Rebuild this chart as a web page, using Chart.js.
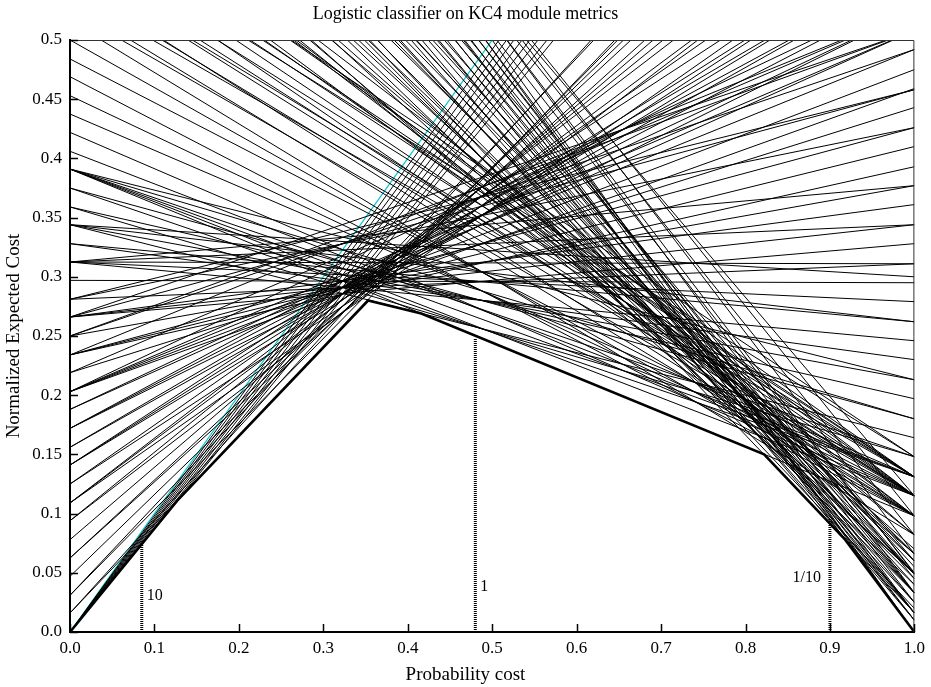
<!DOCTYPE html>
<html>
<head>
<meta charset="utf-8">
<script src="https://cdn.jsdelivr.net/npm/chart.js@4/dist/chart.umd.min.js"></script>
<style>
  html, body { margin: 0; padding: 0; background: #fff; }
  #wrap { width: 931px; height: 687px; position: relative; }
</style>
</head>
<body>
<div id="wrap"><canvas id="costChart"></canvas></div>
<script>
// cost lines: normalized expected cost at PC=0 (false positive rate) and PC=1 (false negative rate)
const fpr = [
    0, 0, 0, 0, 0, 0, 0, 0,
    0.016, 0.016, 0.031, 0.031, 0.047, 0.0625, 0.0625, 0.078, 0.094, 0.094,
    0.109, 0.109, 0.109, 0.125, 0.125, 0.141, 0.141, 0.141, 0.156, 0.156, 0.172, 0.172, 0.172, 0.188, 0.188,
    0.203, 0.203, 0.203, 0.203, 0.203, 0.219, 0.219,
    0.234, 0.234, 0.234, 0.234, 0.25, 0.25, 0.25,
    0.266, 0.266, 0.266, 0.266, 0.266, 0.281, 0.281, 0.281, 0.297,
    0.3125, 0.3125, 0.3125, 0.3125, 0.3125, 0.328, 0.328,
    0.344, 0.344, 0.344, 0.344, 0.359, 0.359, 0.375, 0.375,
    0.391, 0.391, 0.391, 0.391, 0.391, 0.391,
    0.406, 0.422, 0.4375, 0.453, 0.469, 0.484, 0.5,
    0.516, 0.525, 0.531, 0.54, 0.547, 0.55, 0.5625, 0.5625, 0.57, 0.578, 0.585, 0.594, 0.594, 0.60,
    0.609, 0.615, 0.625, 0.625, 0.63, 0.641, 0.645, 0.656, 0.66,
    0.672, 0.68, 0.6875, 0.70, 0.703, 0.719, 0.725, 0.734, 0.74, 0.75, 0.76, 0.766, 0.766, 0.775,
    0.781, 0.79, 0.797, 0.805, 0.8125, 0.82, 0.828, 0.835, 0.844, 0.85, 0.859, 0.865, 0.875, 0.88,
    0.891, 0.895, 0.906, 0.91, 0.922, 0.93, 0.938, 0.945, 0.953, 0.96, 0.969, 0.984,
    1.0, 1.0, 0.984, 1.0, 0.969, 0.984, 0.953
];
const fnr = [
    0.984, 0.967, 0.951, 0.934, 0.918, 0.902, 0.885, 0.873,
    0.80, 0.766, 0.787, 0.754, 0.738, 0.721, 0.705, 0.689, 0.672, 0.64,
    0.656, 0.64, 0.607, 0.623, 0.59, 0.607, 0.59, 0.574, 0.574, 0.557, 0.557, 0.541, 0.525, 0.525, 0.508,
    0.541, 0.508, 0.492, 0.475, 0.459, 0.525, 0.443,
    0.525, 0.426, 0.41, 0.393, 0.508, 0.492, 0.377,
    0.508, 0.458, 0.361, 0.344, 0.328, 0.458, 0.426, 0.311, 0.295,
    0.377, 0.344, 0.311, 0.279, 0.246, 0.262, 0.23,
    0.30, 0.262, 0.213, 0.164, 0.197, 0.148, 0.18, 0.131,
    0.213, 0.18, 0.148, 0.131, 0.115, 0.098,
    0.131, 0.115, 0.131, 0.115, 0.098, 0.115, 0.098,
    0.082, 0.115, 0.098, 0.131, 0.115, 0.098, 0.131, 0.115, 0.115, 0.131, 0.098, 0.148, 0.115, 0.131,
    0.131, 0.115, 0.148, 0.098, 0.131, 0.115, 0.098, 0.082, 0.115,
    0.066, 0.05, 0.082, 0.07, 0.049, 0.066, 0.04, 0.049, 0.06, 0.033, 0.045, 0.066, 0.0164, 0.02,
    0.049, 0.06, 0.033, 0.025, 0.049, 0.04, 0.016, 0.055, 0.033, 0.01, 0.049, 0.025, 0.016, 0.06,
    0.033, 0.01, 0.016, 0.045, 0.016, 0.01, 0.033, 0.025, 0.0, 0.05, 0.016, 0.0,
    0.0, 0.033, 0.049, 0.066, 0.082, 0.098, 0.115
];

// trivial classifier line
const trivialFpr = 0;
const trivialFnr = 1;

// lower envelope vertices
const envX = [0, 0.127, 0.353, 0.416, 0.822, 0.918, 1.0];
const envY = [0, 0.111, 0.280, 0.269, 0.150, 0.078, 0];

// operating points for cost ratios 10, 1 and 1/10
const markerX = [0.085, 0.48, 0.9];
const markerY = [0.078, 0.248, 0.096];
const markerText = ['10', '1', '1/10'];

const xTicks = [0, 0.1, 0.2, 0.3, 0.4, 0.5, 0.6, 0.7, 0.8, 0.9, 1.0];
const yTicks = [0, 0.05, 0.1, 0.15, 0.2, 0.25, 0.3, 0.35, 0.4, 0.45, 0.5];

const chartTitle = 'Logistic classifier on KC4 module metrics';
const xTitle = 'Probability cost';
const yTitle = 'Normalized Expected Cost';

const FONT = "'Liberation Serif', 'DejaVu Serif', serif";
Chart.defaults.color = '#000';
Chart.defaults.font.family = FONT;

const datasets = [];

fpr.forEach((a, i) => {
    datasets.push({
        data: [{ x: 0, y: a }, { x: 1, y: fnr[i] }],
        borderColor: '#000',
        borderWidth: 1
    });
});

datasets.push({
    data: [{ x: 0, y: trivialFpr }, { x: 1, y: trivialFnr }],
    borderColor: 'rgb(0, 200, 205)',
    borderWidth: 1.2
});

datasets.push({
    data: envX.map((x, i) => ({ x: x, y: envY[i] })),
    borderColor: '#000',
    borderWidth: 2.6
});

markerX.forEach((x, i) => {
    datasets.push({
        data: [{ x: x, y: 0 }, { x: x, y: markerY[i] }],
        borderColor: '#000',
        borderWidth: 3,
        borderDash: [1, 1]
    });
});

// inward tick marks, thin top/right frame, titles and marker captions
const framePlugin = {
    id: 'frame',
    afterDraw(chart) {
        const { ctx, chartArea: area, scales, width } = chart;
        ctx.save();
        ctx.strokeStyle = '#333';
        ctx.lineWidth = 1;
        ctx.beginPath();
        ctx.moveTo(area.left, area.top + 0.5);
        ctx.lineTo(area.right - 0.5, area.top + 0.5);
        ctx.lineTo(area.right - 0.5, area.bottom);
        ctx.stroke();

        ctx.strokeStyle = '#000';
        ctx.lineWidth = 1.5;
        ctx.beginPath();
        yTicks.forEach(v => {
            const py = Math.round(scales.y.getPixelForValue(v)) + 0.5;
            ctx.moveTo(area.left, py);
            ctx.lineTo(area.left + 8, py);
        });
        xTicks.forEach(v => {
            const px = Math.round(scales.x.getPixelForValue(v)) + 0.5;
            ctx.moveTo(px, area.bottom);
            ctx.lineTo(px, area.bottom - 8);
        });
        ctx.stroke();

        ctx.fillStyle = '#000';
        ctx.textBaseline = 'middle';
        ctx.textAlign = 'center';
        ctx.font = '18px ' + FONT;
        ctx.fillText(chartTitle, width / 2, 14);
        ctx.font = '19px ' + FONT;
        ctx.fillText(xTitle, width / 2, 675);

        ctx.font = '16px ' + FONT;
        const lift = [36, 45, 54];
        markerText.forEach((t, i) => {
            const px = scales.x.getPixelForValue(markerX[i]);
            const py = area.bottom - lift[i];
            if (i === 2) {
                ctx.textAlign = 'right';
                ctx.fillText(t, px - 9, py);
            } else {
                ctx.textAlign = 'left';
                ctx.fillText(t, px + 5, py);
            }
        });
        ctx.restore();
    }
};

new Chart(document.getElementById('costChart'), {
    type: 'scatter',
    data: { datasets: datasets },
    options: {
        responsive: true,
        maintainAspectRatio: false,
        animation: false,
        showLine: true,
        elements: {
            point: { radius: 0, hoverRadius: 0 },
            line: { tension: 0 }
        },
        layout: { padding: { left: 0, right: 15, top: 40, bottom: 0 } },
        plugins: {
            legend: { display: false },
            tooltip: { enabled: false },
            title: { display: false }
        },
        scales: {
            x: {
                type: 'linear',
                min: 0,
                max: 1,
                afterBuildTicks: (scale) => { scale.ticks = xTicks.map(v => ({ value: v })); },
                afterFit: (scale) => { scale.height = 55; },
                ticks: {
                    padding: 6,
                    font: { size: 17 },
                    callback: (v) => v.toFixed(1)
                },
                grid: { display: false, drawTicks: false },
                border: { display: true, color: '#000', width: 2 },
                title: { display: false }
            },
            y: {
                type: 'linear',
                min: 0,
                max: 0.5,
                afterBuildTicks: (scale) => { scale.ticks = yTicks.map(v => ({ value: v })); },
                afterFit: (scale) => { scale.width = 70; },
                ticks: {
                    padding: 8,
                    font: { size: 17 },
                    callback: (v) => (v === 0 ? '0.0' : String(+v.toFixed(2)))
                },
                grid: { display: false, drawTicks: false },
                border: { display: true, color: '#000', width: 2 },
                title: {
                    display: true,
                    text: yTitle,
                    font: { size: 19 },
                    padding: { top: 3, bottom: 0 }
                }
            }
        }
    },
    plugins: [framePlugin]
});
</script>
</body>
</html>
